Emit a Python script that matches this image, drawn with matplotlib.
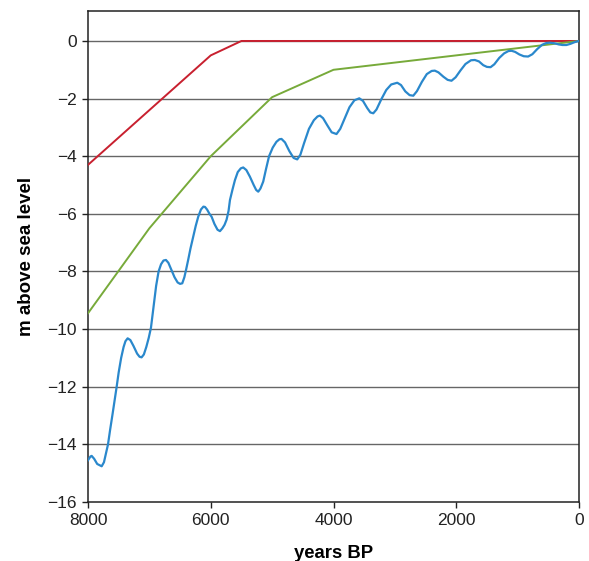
import matplotlib
matplotlib.use("Agg")
import matplotlib.pyplot as plt

plt.rcParams['font.family'] = ['Liberation Sans', 'DejaVu Sans']

# red and green: straight-line reconstructions
red_years = [8000, 6000, 5500, 0]
red_level = [-4.3, -0.5, 0.0, 0.0]

green_years = [8000, 7000, 6000, 5000, 4000, 0]
green_level = [-9.45, -6.5, -4.0, -1.95, -1.0, 0.0]

# blue: oscillating curve
blue_years = [8000, 7960, 7940, 7900, 7850, 7777, 7740, 7700, 7674, 7640,
              7600, 7533, 7500, 7460, 7420, 7390, 7354, 7310, 7260, 7200,
              7160, 7127, 7090, 7050, 7010, 6974, 6930, 6890, 6850, 6810,
              6770, 6730, 6690, 6640, 6590, 6540, 6500, 6464, 6430, 6400,
              6368, 6330, 6285, 6245, 6204, 6160, 6120, 6094, 6060, 6020,
              5986, 5940, 5890, 5850, 5810, 5775, 5742, 5710, 5687, 5645,
              5606, 5560, 5510, 5471, 5420, 5362, 5300, 5260, 5226, 5190,
              5145, 5100, 5050, 4990, 4930, 4880, 4847, 4790, 4720, 4650,
              4591, 4540, 4480, 4400, 4320, 4260, 4221, 4170, 4100, 4030,
              3951, 3890, 3820, 3740, 3660, 3580, 3520, 3450, 3400, 3352,
              3300, 3220, 3140, 3060, 2961, 2900, 2830, 2760, 2700, 2640,
              2560, 2480, 2400, 2349, 2290, 2210, 2140, 2077, 2010, 1930,
              1850, 1760, 1697, 1630, 1560, 1500, 1441, 1380, 1300, 1220,
              1150, 1099, 1040, 970, 900, 829, 760, 680, 600, 530,
              476, 400, 330, 270, 205, 140, 70, 0]
blue_level = [-14.55, -14.42, -14.40, -14.5, -14.68, -14.76, -14.62, -14.25, -14.0, -13.5,
              -12.95, -12.0, -11.5, -11.0, -10.62, -10.42, -10.32, -10.38, -10.58, -10.85,
              -10.96, -10.98, -10.88, -10.62, -10.3, -9.95, -9.2, -8.5, -8.0, -7.75,
              -7.62, -7.6, -7.7, -7.95, -8.2, -8.38, -8.43, -8.41, -8.2, -7.92,
              -7.6, -7.2, -6.79, -6.42, -6.1, -5.85, -5.75, -5.76, -5.85, -6.0,
              -6.1, -6.35, -6.55, -6.6, -6.5, -6.38, -6.2, -5.9, -5.52, -5.15,
              -4.83, -4.55, -4.42, -4.39, -4.48, -4.71, -5.0, -5.17, -5.23, -5.12,
              -4.88, -4.45, -4.0, -3.7, -3.5, -3.41, -3.4, -3.52, -3.82, -4.06,
              -4.11, -3.95, -3.55, -3.05, -2.75, -2.62, -2.59, -2.68, -2.93, -3.17,
              -3.23, -3.05, -2.7, -2.3, -2.06, -1.99, -2.08, -2.33, -2.48, -2.51,
              -2.38, -2.02, -1.7, -1.51, -1.45, -1.53, -1.75, -1.88, -1.9, -1.74,
              -1.42, -1.15, -1.04, -1.03, -1.09, -1.24, -1.35, -1.38, -1.26, -1.02,
              -0.8, -0.67, -0.66, -0.71, -0.84, -0.9, -0.91, -0.81, -0.59, -0.43,
              -0.35, -0.34, -0.38, -0.47, -0.53, -0.54, -0.46, -0.28, -0.13, -0.07,
              -0.06, -0.08, -0.12, -0.14, -0.14, -0.1, -0.04, 0.0]

x_ticks = [8000, 6000, 4000, 2000, 0]
y_ticks = list(range(-16, 1, 2))

fig = plt.figure(figsize=(5.89, 5.61), dpi=100)
ax = fig.add_axes([88 / 589, 59 / 561, 491 / 589, 491 / 561])

for y in y_ticks[1:]:
    ax.axhline(y, color='#666666', lw=1.0, zorder=1)

ax.plot(red_years, red_level, color='#c8202f', lw=1.4, zorder=3)
ax.plot(green_years, green_level, color='#77aa3a', lw=1.4, zorder=3)
ax.plot(blue_years, blue_level, color='#2a88cc', lw=1.6, zorder=4,
        solid_joinstyle='round')

ax.set_xlim(8000, 0)
ax.set_ylim(-16, 1.04)
ax.set_xticks(x_ticks)
ax.set_yticks(y_ticks)
ax.set_yticklabels([str(v).replace('-', '\u2212') for v in y_ticks])

for s in ax.spines.values():
    s.set_color('#222222')
    s.set_linewidth(1.1)

ax.tick_params(axis='both', labelsize=12.5, length=4, width=1, color='#222222',
               labelcolor='#222222', pad=4)

ax.set_xlabel('years BP', fontsize=13.3, fontweight='bold', labelpad=12)
ax.set_ylabel('m above sea level', fontsize=13.5, fontweight='bold', labelpad=9)

fig.savefig('out.png', dpi=100)
